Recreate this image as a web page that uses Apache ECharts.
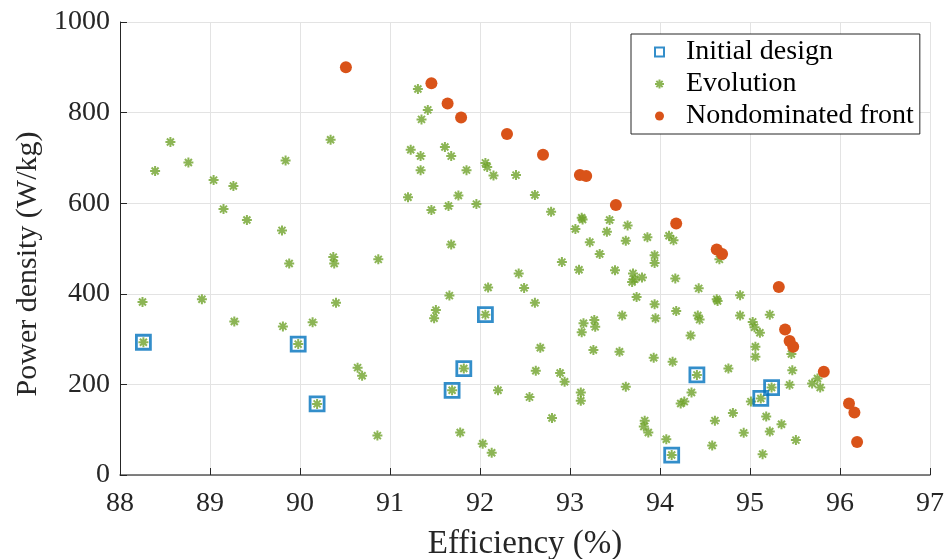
<!DOCTYPE html>
<html>
<head>
<meta charset="utf-8">
<title>Efficiency vs power density</title>
<script src="https://cdn.jsdelivr.net/npm/echarts@6/dist/echarts.min.js"></script>
<style>
  html, body { margin: 0; padding: 0; background: #fff; }
  #chart { width: 950px; height: 559px; }
</style>
</head>
<body>
<div id="chart"></div>
<script>
// Efficiency (%) / power density (W/kg) pairs
const initialDesign = [
  [88.26, 293], [89.98, 289], [90.19, 157], [92.06, 354], [91.82, 235],
  [91.69, 187], [94.13, 44], [94.41, 221], [95.24, 193], [95.12, 169]
];

const evolution = [
  [88.56, 735], [88.76, 690], [88.39, 671], [89.04, 651], [89.26, 638], [89.15, 587],
  [89.41, 563], [89.80, 540], [89.84, 694], [90.34, 740], [91.23, 718], [91.34, 704],
  [91.34, 673], [91.20, 613], [91.31, 852], [91.42, 806], [91.35, 785], [89.88, 467],
  [90.37, 481], [90.38, 467], [90.87, 476], [88.25, 382], [88.91, 388], [89.27, 339],
  [89.81, 328], [90.14, 337], [90.40, 380], [90.64, 237], [90.69, 219], [90.86, 87],
  [91.61, 724], [91.68, 704], [91.85, 673], [92.06, 689], [92.08, 680], [92.15, 661],
  [92.40, 662], [92.61, 618], [92.79, 581], [91.46, 585], [91.65, 594], [91.76, 617],
  [91.96, 598], [91.68, 509], [93.06, 543], [93.13, 568], [93.14, 564], [93.22, 514],
  [93.33, 488], [93.41, 537], [93.44, 563], [93.64, 551], [93.62, 517], [93.86, 525],
  [94.10, 528], [94.15, 518], [92.91, 470], [93.10, 453], [93.50, 452], [92.43, 445],
  [93.94, 485], [93.94, 468], [93.70, 445], [93.80, 436], [93.69, 426], [93.72, 432],
  [94.17, 434], [92.09, 414], [92.49, 413], [91.66, 396], [92.61, 380], [93.74, 393],
  [93.94, 377], [94.18, 362], [91.51, 364], [91.49, 346], [93.15, 335], [93.27, 342],
  [93.28, 327], [93.13, 315], [93.58, 352], [93.95, 346], [92.67, 281], [93.26, 276],
  [93.55, 272], [93.93, 259], [94.14, 250], [92.62, 230], [92.89, 225], [92.94, 206],
  [92.20, 187], [92.55, 172], [93.12, 182], [93.12, 164], [93.62, 195], [92.80, 126],
  [91.78, 94], [92.03, 69], [92.13, 49], [93.83, 120], [93.82, 107], [93.87, 94],
  [94.07, 79], [94.43, 412], [94.63, 388], [94.64, 384], [94.89, 397], [94.66, 476],
  [94.42, 352], [94.44, 343], [94.89, 352], [95.03, 338], [95.05, 326], [95.11, 314],
  [95.22, 354], [94.34, 308], [95.06, 283], [95.06, 261], [95.46, 267], [94.76, 235],
  [95.47, 231], [94.35, 182], [94.23, 158], [94.27, 162], [95.01, 162], [95.44, 199],
  [95.69, 202], [95.75, 213], [95.78, 193], [94.81, 137], [94.61, 120], [95.18, 129],
  [95.35, 112], [95.22, 96], [94.93, 93], [95.51, 77], [94.58, 65], [95.14, 46]
];

const nondominatedFront = [
  [90.51, 900], [91.46, 865], [91.64, 820], [91.79, 789], [92.30, 753],
  [92.70, 707], [93.11, 662], [93.18, 660], [93.51, 596], [94.18, 555],
  [94.63, 498], [94.69, 488], [95.32, 415], [95.39, 321], [95.44, 296],
  [95.48, 283], [95.82, 228], [96.10, 158], [96.16, 138], [96.19, 73]
];

const seriesNames = ['Initial design', 'Evolution', 'Nondominated front'];
const xTicks = { min: 88, max: 97, step: 1 };
const yTicks = { min: 0, max: 1000, step: 200 };

const FONT = "'Liberation Serif', 'Times New Roman', serif";
const INK = '#262626';
const ASTERISK = 'path://M5,0L5,10M0,5L10,5M1.5,1.5L8.5,8.5M1.5,8.5L8.5,1.5';

const chart = echarts.init(document.getElementById('chart'), null, { renderer: 'canvas' });

chart.setOption({
  animation: false,
  backgroundColor: '#ffffff',
  grid: { left: 120, right: 20, top: 22, bottom: 84, containLabel: false, outerBoundsMode: 'none' },
  legend: {
    data: seriesNames,
    orient: 'vertical',
    left: 631,
    top: 34,
    padding: [4, 6, 4, 23],
    itemGap: 4,
    itemWidth: 9,
    itemHeight: 9,
    backgroundColor: '#ffffff',
    borderColor: INK,
    borderWidth: 1,
    borderRadius: 0,
    textStyle: { fontFamily: FONT, fontSize: 28, color: '#000000', padding: [0, 0, 0, 17] }
  },
  xAxis: {
    type: 'value',
    min: xTicks.min,
    max: xTicks.max,
    interval: xTicks.step,
    name: 'Efficiency (%)',
    nameLocation: 'middle',
    nameGap: 53,
    nameTextStyle: { fontFamily: FONT, fontSize: 33, color: INK },
    axisLine: { show: true, onZero: false, lineStyle: { color: '#5a5a5a', width: 1.5 } },
    axisTick: { show: true, inside: true, length: 7, lineStyle: { color: INK } },
    axisLabel: { fontFamily: FONT, fontSize: 28, color: INK, margin: 15 },
    splitLine: { show: true, lineStyle: { color: '#e3e3e3', width: 1 } }
  },
  yAxis: {
    type: 'value',
    min: yTicks.min,
    max: yTicks.max,
    interval: yTicks.step,
    name: 'Power density (W/kg)',
    nameLocation: 'middle',
    nameGap: 75,
    nameTextStyle: { fontFamily: FONT, fontSize: 30, color: INK, padding: [0, 31, 0, 0] },
    axisLine: { show: true, onZero: false, lineStyle: { color: INK, width: 1 } },
    axisTick: { show: true, inside: true, length: 7, lineStyle: { color: INK } },
    axisLabel: { fontFamily: FONT, fontSize: 28, color: INK, margin: 10, formatter: v => String(v) },
    splitLine: { show: true, lineStyle: { color: '#e3e3e3', width: 1 } }
  },
  series: [
    {
      name: seriesNames[0],
      type: 'scatter',
      data: initialDesign,
      symbol: 'rect',
      symbolSize: 14,
      symbolKeepAspect: true,
      itemStyle: { color: 'rgba(255,255,255,0)', borderColor: '#0072BD', borderWidth: 2.8 },
      z: 3
    },
    {
      name: seriesNames[1],
      type: 'scatter',
      // every initial design is also part of the evolution population
      data: evolution.concat(initialDesign),
      symbol: ASTERISK,
      symbolSize: 10,
      itemStyle: { color: 'rgba(255,255,255,0)', borderColor: '#6FA22A', borderWidth: 2 },
      z: 2
    },
    {
      name: seriesNames[2],
      type: 'scatter',
      data: nondominatedFront,
      symbol: 'circle',
      symbolSize: 12,
      itemStyle: { color: '#D95319', opacity: 1 },
      z: 4
    }
  ]
});
</script>
</body>
</html>
